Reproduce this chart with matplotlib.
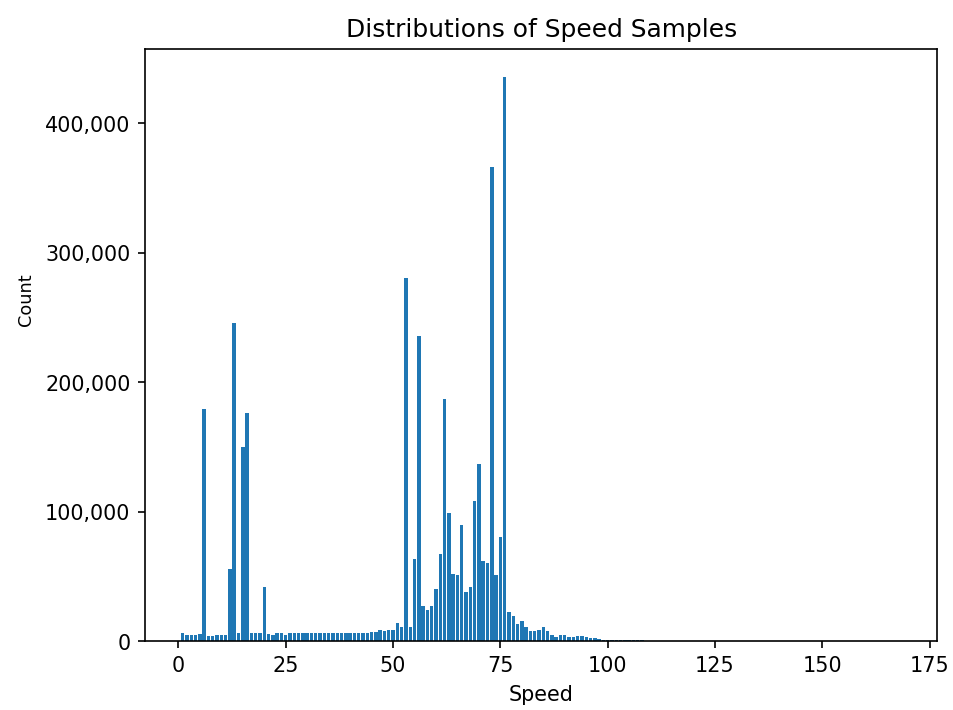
import matplotlib.pyplot as plt
from matplotlib.ticker import FuncFormatter

# speed values (integer km/h bins) and the number of samples in each bin
speeds = list(range(1, 109)) + [110, 115, 120, 130, 140, 150, 160, 168]
counts = [
    6300, 5000, 4500, 4500, 5500, 179500, 3600, 3600, 4800, 5000,          # 1-10
    5000, 56000, 246000, 6200, 150000, 176000, 6000, 6000, 6000, 42000,    # 11-20
    5500, 5000, 6000, 6000, 5000, 6000, 6100, 6100, 6100, 6100,            # 21-30
    6200, 6200, 6200, 6200, 6200, 6200, 6200, 6200, 6200, 6200,            # 31-40
    6200, 6200, 6300, 6500, 7000, 7200, 8500, 7500, 8500, 8500,            # 41-50
    14300, 11000, 280700, 11000, 63000, 236000, 27000, 24000, 27000, 40000,  # 51-60
    67000, 187000, 99000, 52000, 51000, 90000, 38000, 42000, 108000, 137000,  # 61-70
    62000, 60000, 366000, 51000, 80000, 435500, 22500, 19000, 13500, 15500,   # 71-80
    11000, 7500, 7500, 8500, 11000, 7500, 5000, 3300, 4900, 4900,           # 81-90
    3300, 2800, 3600, 3600, 3300, 2300, 2000, 1300, 1000, 1000,            # 91-100
    800, 900, 700, 600, 800, 600, 700, 500,                                # 101-108
    90, 70, 50, 40, 30, 20, 10, 5,                                         # tail
]

fig = plt.figure(figsize=(6.4, 4.77), dpi=149)
ax = fig.add_axes([0.152, 0.097, 0.831, 0.833])

ax.bar(speeds, counts, color='#1f77b4')

ax.yaxis.set_major_formatter(FuncFormatter(lambda v, p: f"{int(v):,}"))
ax.set_title("Distributions of Speed Samples")
ax.set_xlabel("Speed")
# the y label sits a bit above the middle in the original, narrow font
ax.set_ylabel("Count", fontsize=8.5, family=['Liberation Sans Narrow', 'DejaVu Sans'])
ax.yaxis.set_label_coords(-0.139, 0.578)

fig.savefig("out.png", dpi=149)
